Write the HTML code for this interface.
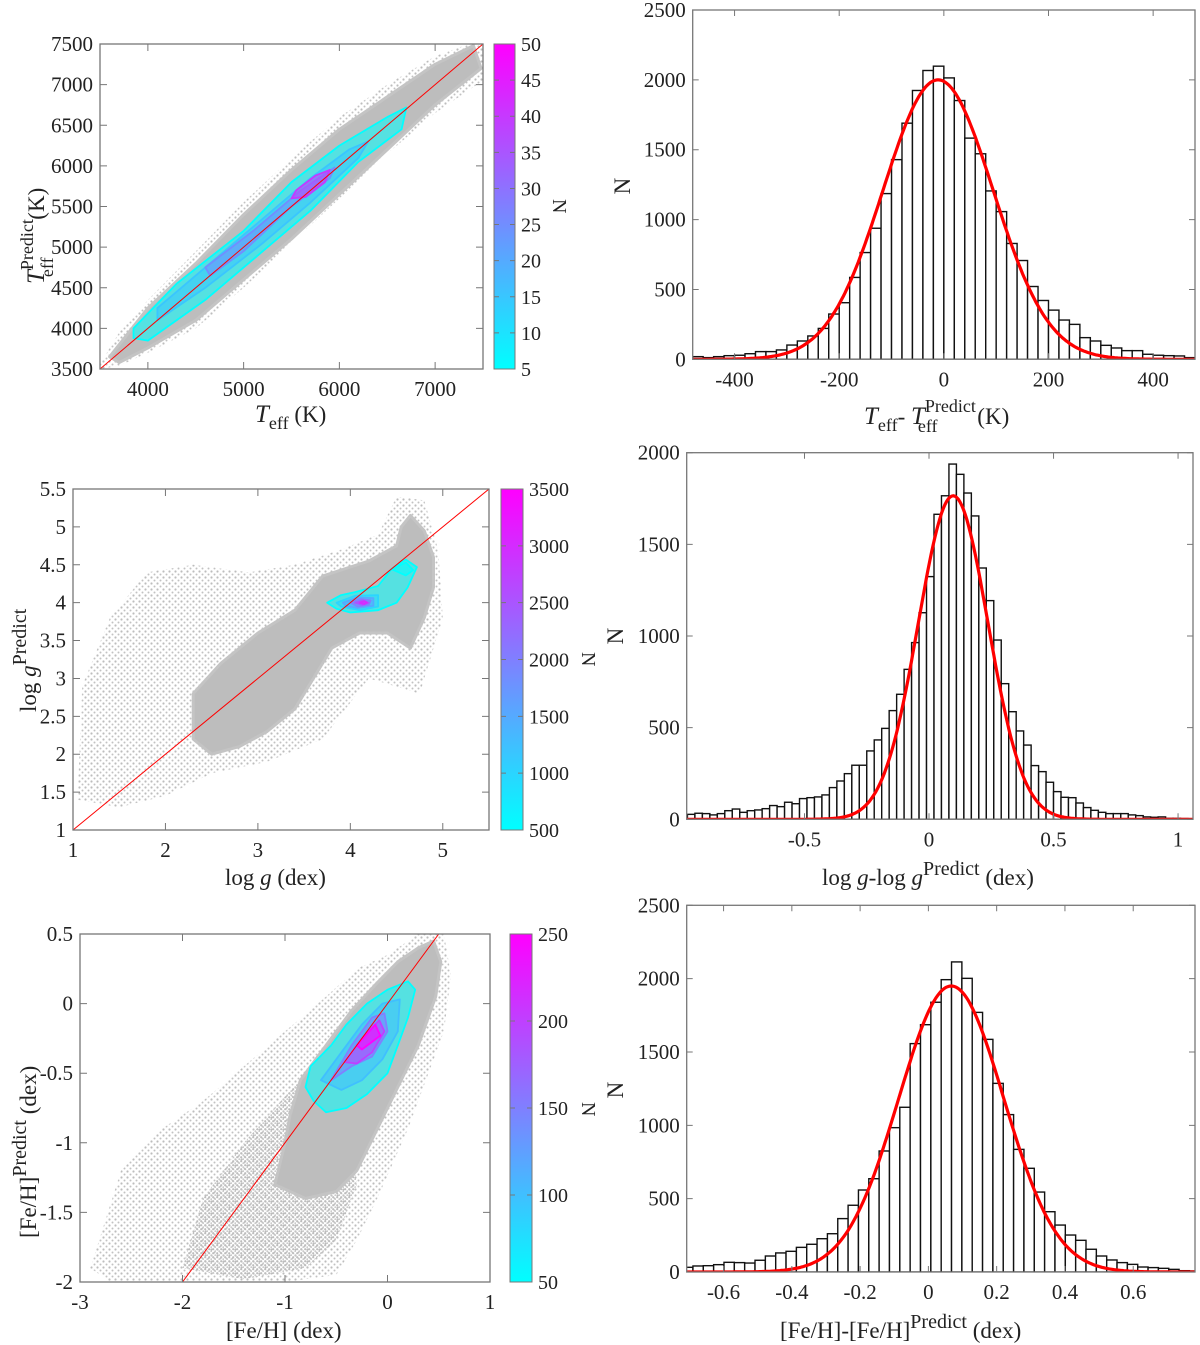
<!DOCTYPE html>
<html><head><meta charset="utf-8">
<style>
html,body{margin:0;padding:0;background:#fff;}
svg{display:block;font-family:"Liberation Serif",serif;}
text{fill:#222;font-family:"Liberation Serif",serif;}
</style></head>
<body>
<svg id="fig" width="1200" height="1345" viewBox="0 0 1200 1345" xmlns="http://www.w3.org/2000/svg">
<defs>
<pattern id="dots" width="4" height="4" patternUnits="userSpaceOnUse"><circle cx="1.2" cy="1.2" r="1.1" fill="#bdbdbd"/><circle cx="3.2" cy="3.1" r="0.9" fill="#c4c4c4"/></pattern>
<pattern id="dots2" width="6" height="6" patternUnits="userSpaceOnUse"><circle cx="1.5" cy="1.5" r="1.1" fill="#bdbdbd"/><circle cx="4.5" cy="4.5" r="1" fill="#c2c2c2"/></pattern>
<linearGradient id="cool" x1="0" y1="1" x2="0" y2="0"><stop offset="0" stop-color="#00ffff"/><stop offset="1" stop-color="#ff00ff"/></linearGradient>
</defs>
</svg>
<script>
// ---------- Histogram data ----------
const tHistStart = -480, tHistWidth = 20;
const tHistCounts = [19,12,19,26,29,40,55,55,67,102,131,167,221,324,405,586,764,938,1186,1429,1690,1924,2067,2098,2014,1852,1583,1471,1205,1057,829,707,521,421,352,281,250,155,131,100,81,62,62,36,29,26,24,12];
const tFit = [2000, -11, 105];
const tXTicks = [-400,-200,0,200,400];
const tYTicks = [0,500,1000,1500,2000,2500];

const gHistStart = -0.97, gHistWidth = 0.03;
const gHistCounts = [27,33,31,24,31,47,56,38,47,51,58,75,69,93,85,113,118,122,133,173,209,249,295,295,373,433,496,593,682,818,964,1127,1324,1664,1765,1938,1882,1780,1655,1371,1193,978,740,587,482,405,293,260,202,151,120,118,89,64,49,38,31,31,31,24,20,13,11,13,5,5,4,2];
const gFit = [1765, 0.097, 0.14];
const gXTicks = [-0.5,0,0.5,1];
const gYTicks = [0,500,1000,1500,2000];

const fHistStart = -0.72, fHistWidth = 0.0303;
const fHistCounts = [32,41,43,50,66,64,61,80,109,130,141,168,189,227,261,364,455,559,636,825,984,1123,1557,1686,1839,1993,2114,2002,1770,1586,1286,1073,836,707,545,411,320,252,216,155,109,82,64,52,34,30,25,18,9,7];
const fFit = [1950, 0.067, 0.154];
const fXTicks = [-0.6,-0.4,-0.2,0,0.2,0.4,0.6];
const fYTicks = [0,500,1000,1500,2000,2500];

// ---------- Scatter panel data (data units) ----------
const tCloudHalo = [[3500,3560],[3700,3950],[4000,4350],[4500,4950],[5000,5550],[5500,6100],[6000,6600],[6500,7000],[7000,7350],[7350,7500],[7500,7500],[7500,7050],[7000,6650],[6500,6150],[6000,5600],[5500,5050],[5000,4500],[4500,4000],[4000,3700],[3700,3540],[3500,3500]];
const tCloudCore = [[3600,3650],[4000,4250],[4500,4800],[5000,5400],[5500,5950],[6000,6450],[6500,6850],[7000,7250],[7400,7480],[7480,7200],[7000,6750],[6500,6200],[6000,5650],[5500,5100],[5000,4600],[4500,4100],[4000,3760],[3700,3580]];
const tContourLevels = [5,15,25,40];
const tContours = [
 [[3850,4000],[4300,4550],[5000,5200],[5500,5800],[6000,6250],[6500,6600],[6700,6720],[6650,6450],[6200,6050],[5700,5450],[5200,4950],[4600,4350],[4000,3850],[3850,3880]],
 [[4100,4250],[4600,4750],[5200,5350],[5700,5850],[6100,6200],[6300,6300],[6200,6100],[5700,5550],[5200,5050],[4600,4500],[4100,4100]],
 [[4600,4750],[5100,5200],[5600,5700],[5950,5980],[5900,5850],[5500,5500],[5000,4950],[4650,4650]],
 [[5550,5700],[5750,5880],[5900,5950],[5850,5800],[5650,5620],[5500,5600]]
];
const tXTicksS = [4000,5000,6000,7000];
const tYTicksS = [3500,4000,4500,5000,5500,6000,6500,7000,7500];
const tCbTicks = [5,10,15,20,25,30,35,40,45,50];

const gCloudHalo = [[1.05,1.4],[1.1,2.9],[1.4,3.8],[1.8,4.4],[2.3,4.5],[2.9,4.4],[3.4,4.5],[3.9,4.7],[4.3,4.9],[4.5,5.4],[4.8,5.35],[4.95,4.7],[5.0,3.8],[4.75,2.8],[4.2,3.0],[3.7,2.2],[3.1,1.9],[2.5,1.75],[2.0,1.45],[1.5,1.3]];
const gCloudCore = [[2.3,2.2],[2.3,2.8],[2.6,3.2],[3.0,3.6],[3.4,3.9],[3.7,4.35],[4.2,4.55],[4.5,4.75],[4.55,5.0],[4.65,5.15],[4.8,4.95],[4.9,4.6],[4.9,4.2],[4.8,3.8],[4.65,3.4],[4.4,3.6],[4.1,3.6],[3.8,3.4],[3.6,3.0],[3.4,2.6],[3.1,2.3],[2.8,2.1],[2.5,2.0]];
const gContourLevels = [500,500,1000,1500,2000,2500,3000];
const gContours = [
 [[3.75,4.0],[3.9,4.1],[4.05,4.14],[4.3,4.22],[4.45,4.45],[4.6,4.57],[4.72,4.47],[4.62,4.2],[4.5,4.0],[4.3,3.9],[4.0,3.87],[3.85,3.92]],
 [[4.45,4.44],[4.6,4.53],[4.68,4.43],[4.6,4.36]],
 [[3.85,4.0],[4.05,4.09],[4.3,4.1],[4.3,3.95],[4.1,3.9],[3.9,3.95]],
 [[3.92,4.0],[4.08,4.07],[4.25,4.06],[4.25,3.96],[4.08,3.93],[3.95,3.96]],
 [[4.0,4.0],[4.1,4.05],[4.22,4.03],[4.2,3.97],[4.08,3.95]],
 [[4.05,4.0],[4.13,4.03],[4.2,4.0],[4.13,3.97]],
 [[4.1,4.0],[4.15,4.02],[4.18,4.0],[4.15,3.98]]
];
const gXTicksS = [1,2,3,4,5];
const gYTicksS = [1,1.5,2,2.5,3,3.5,4,4.5,5,5.5];
const gCbTicks = [500,1000,1500,2000,2500,3000,3500];

const fCloudHalo = [[-2.9,-1.9],[-2.6,-1.2],[-2.2,-0.9],[-1.8,-0.7],[-1.4,-0.45],[-1.0,-0.2],[-0.6,0.05],[-0.3,0.25],[0.0,0.35],[0.3,0.5],[0.55,0.5],[0.62,0.2],[0.55,-0.2],[0.2,-0.9],[-0.1,-1.4],[-0.3,-1.7],[-0.5,-1.95],[-1.0,-2.0],[-2.0,-2.0],[-2.7,-2.0]];
const fCloudMid = [[-2.0,-1.9],[-1.8,-1.4],[-1.4,-1.0],[-1.1,-0.75],[-0.8,-0.5],[-0.4,-0.8],[-0.3,-1.3],[-0.5,-1.7],[-0.8,-1.9],[-1.4,-1.98]];
const fCloudCore = [[-0.85,-0.55],[-0.6,-0.3],[-0.35,-0.05],[-0.1,0.15],[0.1,0.3],[0.3,0.4],[0.45,0.45],[0.52,0.3],[0.47,0.05],[0.3,-0.3],[0.1,-0.6],[-0.1,-0.9],[-0.3,-1.2],[-0.5,-1.35],[-0.8,-1.4],[-1.1,-1.3],[-1.0,-1.0],[-0.95,-0.8]];
const fContourLevels = [50,100,150,200,250];
const fContours = [
 [[-0.8,-0.6],[-0.75,-0.45],[-0.55,-0.3],[-0.4,-0.15],[-0.2,0.0],[0.0,0.1],[0.2,0.16],[0.27,0.1],[0.2,-0.1],[0.1,-0.3],[0.0,-0.5],[-0.2,-0.65],[-0.4,-0.75],[-0.6,-0.78],[-0.72,-0.7]],
 [[-0.65,-0.55],[-0.45,-0.35],[-0.25,-0.15],[-0.05,-0.0],[0.12,0.03],[0.1,-0.2],[-0.05,-0.4],[-0.25,-0.55],[-0.45,-0.62]],
 [[-0.55,-0.55],[-0.35,-0.3],[-0.15,-0.1],[-0.03,-0.07],[0.0,-0.2],[-0.15,-0.38],[-0.35,-0.45]],
 [[-0.42,-0.42],[-0.25,-0.25],[-0.08,-0.12],[-0.03,-0.2],[-0.15,-0.35],[-0.3,-0.43]],
 [[-0.3,-0.3],[-0.12,-0.15],[-0.07,-0.23],[-0.25,-0.33]]
];
const fXTicksS = [-3,-2,-1,0,1];
const fYTicksS = [-2,-1.5,-1,-0.5,0,0.5];
const fCbTicks = [50,100,150,200,250];

// ---------- rendering ----------
const NS = "http://www.w3.org/2000/svg";
const svg = document.getElementById('fig');
function mk(tag, attrs, parent){const e=document.createElementNS(NS,tag);for(const k in attrs)e.setAttribute(k,attrs[k]);(parent||svg).appendChild(e);return e;}
function scale(d0,d1,r0,r1){return v=>r0+(v-d0)/(d1-d0)*(r1-r0);}
function cool(t){t=Math.max(0,Math.min(1,t));return `rgb(${Math.round(255*t)},${Math.round(255*(1-t))},255)`;}
function fmt(v){return String(Math.round(v*1000)/1000);}

function frame(g, box, xs, ys, xt, yt, tickLen){
  const [x0,y0,x1,y1]=box;
  const r=mk('rect',{x:x0,y:y0,width:x1-x0,height:y1-y0,fill:'none',stroke:'#777','stroke-width':1.3},g);
  
  
  xt.forEach(v=>{const x=xs(v);
    const t=mk('path',{d:`M${x},${y1}v${-tickLen}M${x},${y0}v${tickLen}`,stroke:'#777','stroke-width':1},g);
    
    
    const l=mk('text',{x:x,y:y1+27,'font-size':21,'text-anchor':'middle'},g);l.textContent=fmt(v);
    
    
  });
  yt.forEach(v=>{const y=ys(v);
    const t=mk('path',{d:`M${x0},${y}h${tickLen}M${x1},${y}h${-tickLen}`,stroke:'#777','stroke-width':1},g);
    
    
    const l=mk('text',{x:x0-7,y:y+7,'font-size':21,'text-anchor':'end'},g);l.textContent=fmt(v);
    
    
  });
}

function hist(name, box, xdom, ydom, start, w, counts, fit, xt, yt){
  const g=mk('g',{});
  
  
  const [x0,y0,x1,y1]=box;
  const xs=scale(xdom[0],xdom[1],x0,x1), ys=scale(ydom[0],ydom[1],y1,y0);
  const cid=name+'-clip';
  const cp=mk('clipPath',{id:cid},g);mk('rect',{x:x0,y:y0,width:x1-x0,height:y1-y0},cp);
  const bars=mk('g',{'clip-path':`url(#${cid})`},g);
  counts.forEach((c,i)=>{
    const a=xs(start+i*w), b=xs(start+(i+1)*w);
    const r=mk('rect',{x:a,y:ys(c),width:b-a,height:ys(0)-ys(c),fill:'#fff',stroke:'#111','stroke-width':1.4},bars);
    
    
  });
  let d='';
  for(let i=0;i<=300;i++){const x=xdom[0]+(xdom[1]-xdom[0])*i/300;const y=fit[0]*Math.exp(-0.5*Math.pow((x-fit[1])/fit[2],2));d+=(i?'L':'M')+xs(x).toFixed(1)+','+ys(y).toFixed(1);}
  const p=mk('path',{d:d,fill:'none',stroke:'#f00','stroke-width':3.2},bars);
  
  
  frame(g,box,xs,ys,xt,yt,6);
  return g;
}

function poly(pts,xs,ys){return pts.map(p=>xs(p[0]).toFixed(1)+','+ys(p[1]).toFixed(1)).join(' ');}

function scatter(name, box, xdom, ydom, halos, core, contours, levels, cbMax, cbMin, xt, yt, cbBox, cbt){
  const g=mk('g',{});
  
  
  const [x0,y0,x1,y1]=box;
  const xs=scale(xdom[0],xdom[1],x0,x1), ys=scale(ydom[0],ydom[1],y1,y0);
  const cid=name+'-clip';
  const cp=mk('clipPath',{id:cid},g);mk('rect',{x:x0,y:y0,width:x1-x0,height:y1-y0},cp);
  const pl=mk('g',{'clip-path':`url(#${cid})`},g);
  halos.forEach((h,i)=>{
    const e=mk('polygon',{points:poly(h,xs,ys),fill:i===0?'url(#dots2)':'url(#dots)',stroke:'none'},pl);
    
    
  });
  const c=mk('polygon',{points:poly(core,xs,ys),fill:'#bdbdbd',stroke:'#c4c4c4','stroke-width':3,'stroke-linejoin':'round'},pl);
  
  
  contours.forEach((ct,i)=>{
    const col=cool((levels[i]-cbMin)/(cbMax-cbMin));
    const e=mk('polygon',{points:poly(ct,xs,ys),fill:col,'fill-opacity':0.55,stroke:col,'stroke-width':1.8,'stroke-linejoin':'round'},pl);
    
    
  });
  const lo=Math.max(xdom[0],ydom[0]), hi=Math.min(xdom[1],ydom[1]);
  const ln=mk('line',{x1:xs(lo),y1:ys(lo),x2:xs(hi),y2:ys(hi),stroke:'#f00','stroke-width':1},pl);
  
  
  frame(g,box,xs,ys,xt,yt,7);
  const [cx0,cy0,cx1,cy1]=cbBox;
  const cb=mk('rect',{x:cx0,y:cy0,width:cx1-cx0,height:cy1-cy0,fill:'url(#cool)',stroke:'#777','stroke-width':1},g);
  
  
  const cs=scale(cbMin,cbMax,cy1,cy0);
  cbt.forEach(v=>{
    const t=mk('path',{d:`M${cx1},${cs(v)}h-5M${cx0},${cs(v)}h5`,stroke:'#777'},g);
    
    
    const l=mk('text',{x:cx1+6,y:cs(v)+7,'font-size':20},g);l.textContent=v;
    
    
  });
  return g;
}

hist('teff-residual-histogram',[692.7,10,1195,359.3],[-480,480],[0,2500],tHistStart,tHistWidth,tHistCounts,tFit,tXTicks,tYTicks);
hist('logg-residual-histogram',[686.7,452.7,1193,819.3],[-0.973,1.06],[0,2000],gHistStart,gHistWidth,gHistCounts,gFit,gXTicks,gYTicks);
hist('feh-residual-histogram',[686.7,905.3,1195,1272],[-0.708,0.781],[0,2500],fHistStart,fHistWidth,fHistCounts,fFit,fXTicks,fYTicks);

scatter('teff-scatter',[100,44,483,369],[3500,7500],[3500,7500],[tCloudHalo],tCloudCore,tContours,tContourLevels,50,5,tXTicksS,tYTicksS,[494,44,515,369],tCbTicks);
scatter('logg-scatter',[73,489,489,830],[1,5.5],[1,5.5],[gCloudHalo],gCloudCore,gContours,gContourLevels,3500,500,gXTicksS,gYTicksS,[501,489,523,830],gCbTicks);
scatter('feh-scatter',[80,934,490,1282],[-3,1],[-2,0.5],[fCloudHalo,fCloudMid],fCloudCore,fContours,fContourLevels,250,50,fXTicksS,fYTicksS,[510,934,532,1282],fCbTicks);

function label(name, html, attrs){
  const t=mk('text',Object.assign({'font-size':23},attrs));
  t.innerHTML=html;
  
  
  return t;
}
label('teff-x-axis-title','<tspan font-style="italic" font-size="25">T</tspan><tspan font-size="18" dy="7">eff</tspan><tspan dy="-7"> (K)</tspan>',{x:255,y:422});
label('teff-y-axis-title','<tspan font-style="italic" font-size="25">T</tspan><tspan font-size="18" dy="-11">Predict</tspan><tspan font-size="18" dx="-58" dy="20">eff</tspan><tspan dx="32" dy="-9"> (K)</tspan>',{x:0,y:0,transform:'translate(44,284) rotate(-90)'});
label('colorbar-title','N',{x:0,y:0,transform:'translate(553,199) rotate(90)','font-size':20});
label('teff-hist-x-axis-title','<tspan font-style="italic" font-size="25">T</tspan><tspan font-size="18" dy="7">eff</tspan><tspan dy="-7">- </tspan><tspan font-style="italic" font-size="25">T</tspan><tspan font-size="18" dy="-12">Predict</tspan><tspan font-size="18" dx="-58" dy="20">eff</tspan><tspan dx="34" dy="-8"> (K)</tspan>',{x:864,y:424});
label('teff-hist-y-axis-title','N',{x:0,y:0,transform:'translate(630,186) rotate(-90)','font-size':23,'text-anchor':'middle'});

label('logg-x-axis-title','log <tspan font-style="italic">g</tspan>  (dex)',{x:225,y:885,'xml:space':'preserve'});
label('logg-y-axis-title','log <tspan font-style="italic">g</tspan><tspan font-size="20" dy="-10">Predict</tspan>',{x:0,y:0,transform:'translate(36,712) rotate(-90)'});
label('logg-colorbar-title','N',{x:0,y:0,transform:'translate(582,652) rotate(90)','font-size':20});
label('logg-hist-x-axis-title','log <tspan font-style="italic">g</tspan>-log <tspan font-style="italic">g</tspan><tspan font-size="20" dy="-10">Predict</tspan><tspan dy="10"> (dex)</tspan>',{x:822,y:885});
label('logg-hist-y-axis-title','N',{x:0,y:0,transform:'translate(623,636) rotate(-90)','font-size':23,'text-anchor':'middle'});

label('feh-x-axis-title','[Fe/H] (dex)',{x:226,y:1338});
label('feh-y-axis-title','[Fe/H]<tspan font-size="20" dy="-10">Predict</tspan><tspan dy="10"> (dex)</tspan>',{x:0,y:0,transform:'translate(36,1238) rotate(-90)'});
label('feh-colorbar-title','N',{x:0,y:0,transform:'translate(582,1102) rotate(90)','font-size':20});
label('feh-hist-x-axis-title','[Fe/H]-[Fe/H]<tspan font-size="20" dy="-10">Predict</tspan><tspan dy="10"> (dex)</tspan>',{x:780,y:1338});
label('feh-hist-y-axis-title','N',{x:0,y:0,transform:'translate(623,1090) rotate(-90)','font-size':23,'text-anchor':'middle'});
</script>
</body></html>
